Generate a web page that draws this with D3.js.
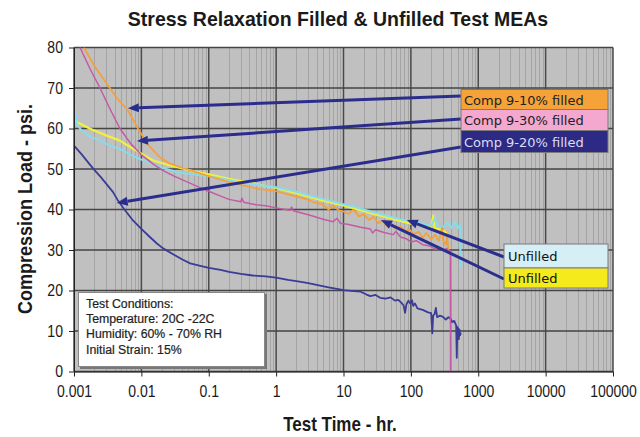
<!DOCTYPE html>
<html>
<head>
<meta charset="utf-8">
<script src="https://cdn.jsdelivr.net/npm/d3@7"></script>
<style>
  body { margin: 0; background: #fff; }
  svg { display: block; font-family: "Liberation Sans", Arial, sans-serif; }
</style>
</head>
<body>
<svg id="svg1" width="640" height="437"></svg>
<script>
// ---- data: [time in hr, load in psi] ----
var comp10 = [[0.0014,80],[0.002,75.5],[0.0028,72],[0.0034,70],[0.0045,67.2],[0.0063,64.5],[0.0089,60],[0.0125,56],
  [0.0188,52.9],[0.026,51.4],[0.037,50.5],[0.06,49.4],[0.1,48.2],[0.2,46.8],[0.35,45.8],[0.58,45],[1,44.5],[1.6,43.6],
  [2.5,42.8],[3.5,41.9],[5,41.2],[6,40.0],[7,41.0],[8.5,39.8],[10,39.5],[12,38.9],[14,40.0],[17,38.3],[20,38.8],[24,37.4],
  [28,38.2],[33,36.6],[38,37.2],[45,35.8],[52,36.5],[60,35.2],[70,35.8],[80,34.6],[95,35.1],[110,33.9],[130,34.5],
  [150,33.0],[170,34.2],[200,32.6],[230,33.8],[260,32.2],[290,35.6],[300,32.4],[330,31.2],[345,33.5],[360,30.0],[365,29.4]];

var comp30 = [[0.00123,80],[0.0017,75],[0.00243,70],[0.0035,64.5],[0.0048,60],[0.007,56.2],[0.01,53.5],[0.015,51.2],
  [0.021,49.6],[0.03,48.3],[0.045,47],[0.07,45.6],[0.1,44.5],[0.15,43.3],[0.2,42.5],[0.3,41.9],[0.31,42.8],[0.33,41.8],
  [0.5,41.2],[0.7,40.9],[1,40.4],[1.6,39.8],[1.7,40.6],[1.8,39.7],[3,38.7],[5,37.6],[7,37.0],[8,37.8],[9,36.6],[12,36.3],
  [18,35.6],[25,35.2],[27,34.2],[30,35.0],[40,34.3],[55,33.8],[60,34.6],[70,33.2],[85,32.8],[100,32.0],[120,32.3],
  [150,31.3],[190,31.0],[230,30.2],[270,30.6],[300,29.9],[340,30.4],[370,29.5],[385,29.8],[388,0]];

var comp20 = [[0.001,55.8],[0.0013,53.6],[0.0017,51.2],[0.002,49.8],[0.0025,48],[0.003,46.4],[0.0038,44.3],[0.0045,42.2],
  [0.0055,40.2],[0.0075,37.3],[0.01,35.2],[0.013,33.4],[0.017,31.6],[0.021,30.4],[0.03,28.9],[0.04,27.7],[0.053,26.7],
  [0.075,26.1],[0.1,25.6],[0.15,25.1],[0.2,24.6],[0.3,24.1],[0.45,23.7],[0.7,23.5],[1,23.2],[1.5,22.6],[2,22.3],[3,21.8],
  [4.5,21.2],[6,20.8],[8,20.4],[10,20.1],[13,19.9],[18,19.7],[22,19.0],[25,18.6],[30,18.9],[35,18.2],[42,18.0],[50,18.3],
  [58,17.5],[65,17.7],[72,17.0],[78,16.3],[82,14.5],[86,16.6],[92,17.5],[98,16.8],[104,17.6],[108,16.2],[115,16.8],
  [125,15.6],[150,15.2],[180,14.6],[200,14.4],[208,9.4],[214,13.8],[225,14.2],[235,15.7],[245,13.4],[270,13.8],[300,13.5],
  [330,12.8],[360,13.4],[385,13.1],[410,12.2],[440,12.5],[470,11.4],[480,3.4],[490,11.0],[505,10.5],[515,8.0],[525,10.4],
  [540,9.0],[550,9.6]];

var unfilledA = [[0.001,66.5],[0.00103,64.5],[0.00107,62.5],[0.0011,61],[0.0013,59.5],[0.0017,58],[0.0025,57],[0.003,56.2],
  [0.005,54.8],[0.007,53.5],[0.01,52.3],[0.015,51.2],[0.02,50.3],[0.035,49.2],[0.06,48.7],[0.1,48.2],[0.2,47.3],[0.3,46.6],
  [0.6,46],[1,45.5],[2,44.4],[3,43.5],[5,42.6],[10,41.3],[15,40.6],[20,40.0],[30,39.2],[50,38.2],[70,37.6],[100,37.1],
  [130,36.8],[160,36.3],[200,36.0],[230,38.0],[250,35.8],[300,35.6],[350,36.8],[400,35.5],[450,37.0],[500,35.4],[530,36.2],
  [540,35.6],[548,25.5]];

var unfilledB = [[0.001,62],[0.0013,61],[0.0017,60],[0.003,58.3],[0.0048,57],[0.007,55.3],[0.01,53.8],[0.015,52.1],
  [0.025,51],[0.037,50.3],[0.06,49.4],[0.1,48.7],[0.2,47.6],[0.3,47],[0.6,46],[1,45.3],[2,44],[3,43.2],[5,42.2],[10,41],
  [20,39.6],[30,38.8],[50,37.8],[70,37.2],[100,36.5],[130,36.2],[160,35.8],[200,35.6],[215,38.5],[225,35.4],[260,35.2],
  [300,34.8],[330,34.3],[340,34.0]];

var xTicks = [0.001, 0.01, 0.1, 1, 10, 100, 1000, 10000, 100000];
var xTickLabels = ['0.001', '0.01', '0.1', '1', '10', '100', '1000', '10000', '100000'];
var yTicks = [0, 10, 20, 30, 40, 50, 60, 70, 80];

var legendLabels = ['Comp 9-10% filled', 'Comp 9-30% filled', 'Comp 9-20% filled', 'Unfilled', 'Unfilled'];
// arrow tips, in data units [hr, psi]
var arrowTips = [[0.0063, 65], [0.0086, 56.9], [0.0043, 41.6], [87, 37.4], [36, 37.4]];
var conditions = ['Test Conditions:', 'Temperature: 20C -22C', 'Humidity: 60% - 70% RH', 'Initial Strain: 15%'];

// ---- layout ----
var width = 640;
var height = 437;
var marginLeft = 74;
var marginRight = 27;
var marginTop = 47.5;
var marginBottom = 65.5;

var svg = d3.select('#svg1');

var scaleX = d3.scaleLog().domain([0.001, 100000]).range([marginLeft, width - marginRight]);
var scaleY = d3.scaleLinear().domain([0, 80]).range([height - marginBottom, marginTop]);

// plot area
svg.append('rect')
    .attr('x', marginLeft).attr('y', marginTop)
    .attr('width', width - marginRight - marginLeft)
    .attr('height', height - marginBottom - marginTop)
    .attr('fill', '#c0c0c0');

// minor vertical gridlines
var allTicks = scaleX.ticks();
svg.append('g').selectAll('line')
    .data(allTicks.filter(function(d){ return Math.abs(Math.log10(d) - Math.round(Math.log10(d))) > 1e-6; }))
    .enter().append('line')
    .attr('x1', function(d){ return Math.round(scaleX(d)) + 0.5; })
    .attr('x2', function(d){ return Math.round(scaleX(d)) + 0.5; })
    .attr('y1', marginTop).attr('y2', scaleY(0))
    .attr('stroke', '#a4a4a4').attr('stroke-width', 1);

// major vertical gridlines
svg.append('g').selectAll('line')
    .data(xTicks)
    .enter().append('line')
    .attr('x1', function(d){ return scaleX(d); })
    .attr('x2', function(d){ return scaleX(d); })
    .attr('y1', marginTop).attr('y2', scaleY(0))
    .attr('stroke', '#4a4a4a').attr('stroke-width', 1.5);

// horizontal gridlines
svg.append('g').selectAll('line')
    .data(yTicks)
    .enter().append('line')
    .attr('x1', marginLeft).attr('x2', width - marginRight)
    .attr('y1', function(d){ return scaleY(d); })
    .attr('y2', function(d){ return scaleY(d); })
    .attr('stroke', '#454545').attr('stroke-width', 1.7);

svg.append('clipPath').attr('id', 'plotclip')
    .append('rect')
    .attr('x', marginLeft).attr('y', marginTop)
    .attr('width', width - marginRight - marginLeft)
    .attr('height', height - marginBottom - marginTop);

var line = d3.line()
    .x(function(d){ return scaleX(d[0]); })
    .y(function(d){ return scaleY(d[1]); });

var series = [
    {data: comp20, color: '#3b3b98', w: 1.8},
    {data: unfilledB, color: '#f2f03c', w: 2.2},
    {data: unfilledA, color: '#86dcea', w: 2.0},
    {data: comp10, color: '#f3a03a', w: 1.7},
    {data: comp30, color: '#c45aa6', w: 1.5}
];

var curves = svg.append('g').attr('clip-path', 'url(#plotclip)');
series.forEach(function(s){
    curves.append('path')
        .attr('d', line(s.data))
        .attr('fill', 'none')
        .attr('stroke', s.color)
        .attr('stroke-width', s.w)
        .attr('stroke-linejoin', 'round');
});

// axes
var xAxis = svg.append('g')
    .attr('transform', 'translate(0,' + scaleY(0) + ')')
    .attr('color', '#222')
    .call(d3.axisBottom(scaleX).tickValues(xTicks)
        .tickFormat(function(d, i){ return xTickLabels[i]; })
        .tickSize(5).tickSizeOuter(0).tickPadding(9));

var yAxis = svg.append('g')
    .attr('transform', 'translate(' + marginLeft + ',0)')
    .attr('color', '#222')
    .call(d3.axisLeft(scaleY).tickValues(yTicks)
        .tickSize(5).tickSizeOuter(0).tickPadding(8));

[xAxis, yAxis].forEach(function(a){
    a.selectAll('text')
        .attr('font-family', '"Liberation Sans", Arial, sans-serif')
        .attr('font-size', 16.5)
        .attr('fill', '#1a1a1a')
        .attr('transform', 'scale(0.85,1)');
});

// test conditions box
svg.append('rect')
    .attr('x', 80).attr('y', 294).attr('width', 187).attr('height', 75)
    .attr('fill', '#777');
svg.append('rect')
    .attr('x', 78.5).attr('y', 292.5).attr('width', 186).attr('height', 74)
    .attr('fill', '#fff').attr('stroke', '#888').attr('stroke-width', 1);
svg.append('g').selectAll('text')
    .data(conditions)
    .enter().append('text')
    .attr('x', 86)
    .attr('y', function(d, i){ return 308 + i * 15.2; })
    .attr('font-size', 12.3)
    .attr('fill', '#1e1e1e')
    .attr('stroke', '#1e1e1e').attr('stroke-width', 0.2)
    .text(function(d){ return d; });

// legend boxes
var legendBoxes = [
    {x: 461, y: 89.5, w: 147, h: 20, fill: '#f5a338', text: '#222'},
    {x: 461, y: 109.5, w: 147, h: 21, fill: '#f4a7cf', text: '#222'},
    {x: 461, y: 130.5, w: 147, h: 22, fill: '#2c2a84', text: '#dcdcf0'},
    {x: 504, y: 244, w: 104, h: 24, fill: '#d6eef6', text: '#111'},
    {x: 504, y: 268, w: 104, h: 20, fill: '#f4ea1c', text: '#111'}
];
var arrowTails = [[461, 96], [461, 119], [461, 147], [504, 257], [504, 279]];

// arrows
var arrowColor = '#2b2d8c';
arrowTips.forEach(function(tip, i){
    var tx = scaleX(tip[0]), ty = scaleY(tip[1]);
    var sx = arrowTails[i][0], sy = arrowTails[i][1];
    var dx = sx - tx, dy = sy - ty;
    var len = Math.sqrt(dx * dx + dy * dy);
    var ux = dx / len, uy = dy / len;
    var bx = tx + ux * 11, by = ty + uy * 11;
    svg.append('line')
        .attr('x1', sx).attr('y1', sy).attr('x2', bx).attr('y2', by)
        .attr('stroke', arrowColor).attr('stroke-width', 3);
    svg.append('polygon')
        .attr('points', [[tx, ty], [bx - uy * 4.5, by + ux * 4.5], [bx + uy * 4.5, by - ux * 4.5]].join(' '))
        .attr('fill', arrowColor);
});

legendBoxes.forEach(function(b, i){
    svg.append('rect')
        .attr('x', b.x).attr('y', b.y).attr('width', b.w).attr('height', b.h)
        .attr('fill', b.fill).attr('stroke', '#7a7a7a').attr('stroke-width', 1);
    svg.append('text')
        .attr('x', b.x + (i < 3 ? 3 : 4))
        .attr('y', b.y + b.h / 2 + 5)
        .attr('font-family', '"DejaVu Sans", Verdana, sans-serif')
        .attr('font-size', 13)
        .attr('fill', b.text)
        .text(legendLabels[i]);
});

// titles
svg.append('text')
    .attr('transform', 'translate(338,26) scale(0.93,1)')
    .attr('text-anchor', 'middle')
    .attr('font-weight', 'bold')
    .attr('font-size', 21)
    .attr('fill', '#1a1a1a')
    .text('Stress Relaxation Filled & Unfilled Test MEAs');

svg.append('text')
    .attr('transform', 'translate(340,431) scale(0.85,1)')
    .attr('text-anchor', 'middle')
    .attr('font-weight', 'bold')
    .attr('font-size', 20)
    .attr('fill', '#1a1a1a')
    .text('Test Time - hr.');

svg.append('text')
    .attr('transform', 'translate(32,209) rotate(-90) scale(0.9,1)')
    .attr('text-anchor', 'middle')
    .attr('font-weight', 'bold')
    .attr('font-size', 20)
    .attr('fill', '#1a1a1a')
    .text('Compression Load - psi.');
</script>
</body>
</html>
